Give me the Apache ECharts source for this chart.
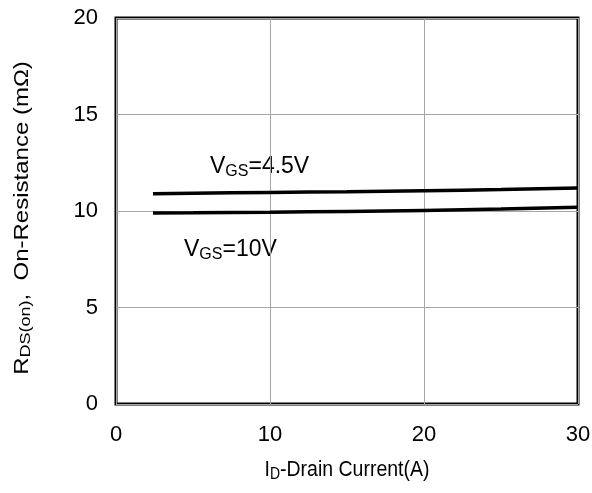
<!DOCTYPE html>
<html><head><meta charset="utf-8">
<script src="https://cdn.jsdelivr.net/npm/echarts@6/dist/echarts.min.js"></script>
<style>html,body{margin:0;padding:0;background:#fff}#c{width:592px;height:493px}</style>
</head><body><div id="c"></div>
<script>
const xTicks = [0, 10, 20, 30];
const yTicks = [0, 5, 10, 15, 20];
const idA = [2.4, 5, 10, 15, 20, 25, 30];
const vgs45 = [10.9, 10.92, 10.96, 11.0, 11.05, 11.11, 11.19];
const vgs10 = [9.9, 9.91, 9.94, 9.98, 10.03, 10.1, 10.2];
const label45 = ['V', 'GS', '=4.5V'];
const label10 = ['V', 'GS', '=10V'];
const xTitle = ['I', 'D', '-Drain Current(A)'];
const yTitle = ['R', 'DS(on)', ',  On-Resistance (mΩ)'];

const font = 'Liberation Sans, Arial, sans-serif';
const chart = echarts.init(document.getElementById('c'), null, {renderer: 'canvas'});
const toPairs = (xs, ys) => xs.map((x, i) => [x, ys[i]]);
const mkRich = (m, s, pad) => ({
  m: {fontSize: m, fontFamily: font, color: '#000'},
  s: {fontSize: s, fontFamily: font, color: '#000', verticalAlign: 'bottom', padding: [pad, 0, 0, 0]}
});
const sub = (p) => '{m|' + p[0] + '}{s|' + p[1] + '}{m|' + p[2] + '}';
const lblRich = mkRich(23, 16, 10);
const xTitleRich = mkRich(19.5, 14, 8);
const yTitleRich = mkRich(20, 15, 8);
chart.setOption({
  animation: false,
  grid: {left: 116, top: 18, right: 14, bottom: 89, show: true, borderColor: '#000', borderWidth: 3,
         containLabel: false, outerBoundsMode: 'none'},
  xAxis: {
    type: 'value', min: xTicks[0], max: xTicks[xTicks.length - 1], interval: 10,
    axisLine: {show: false}, axisTick: {show: false},
    splitLine: {show: true, lineStyle: {color: '#a6a6a6', width: 1}},
    axisLabel: {fontSize: 22, fontFamily: font, color: '#000', margin: 20}
  },
  yAxis: {
    type: 'value', min: yTicks[0], max: yTicks[yTicks.length - 1], interval: 5,
    axisLine: {show: false}, axisTick: {show: false},
    splitLine: {show: true, lineStyle: {color: '#a6a6a6', width: 1}},
    axisLabel: {fontSize: 22, fontFamily: font, color: '#000', margin: 18}
  },
  series: [
    {type: 'line', data: toPairs(idA, vgs45), symbol: 'none', smooth: true,
     lineStyle: {color: '#000', width: 3.5}, z: 5},
    {type: 'line', data: toPairs(idA, vgs10), symbol: 'none', smooth: true,
     lineStyle: {color: '#000', width: 3.5}, z: 5}
  ],
  graphic: [
    {type: 'text', left: 210, top: 155, style: {text: sub(label45), rich: lblRich}},
    {type: 'text', left: 184, top: 238, style: {text: sub(label10), rich: lblRich}},
    {type: 'text', x: 347, y: 470, scaleY: 1.12,
     style: {text: sub(xTitle), rich: xTitleRich, align: 'center', verticalAlign: 'middle'}},
    {type: 'text', x: 22, y: 218, rotation: Math.PI / 2, scaleX: 1.2,
     style: {text: sub(yTitle), rich: yTitleRich, align: 'center', verticalAlign: 'middle'}}
  ]
});
</script></body></html>
